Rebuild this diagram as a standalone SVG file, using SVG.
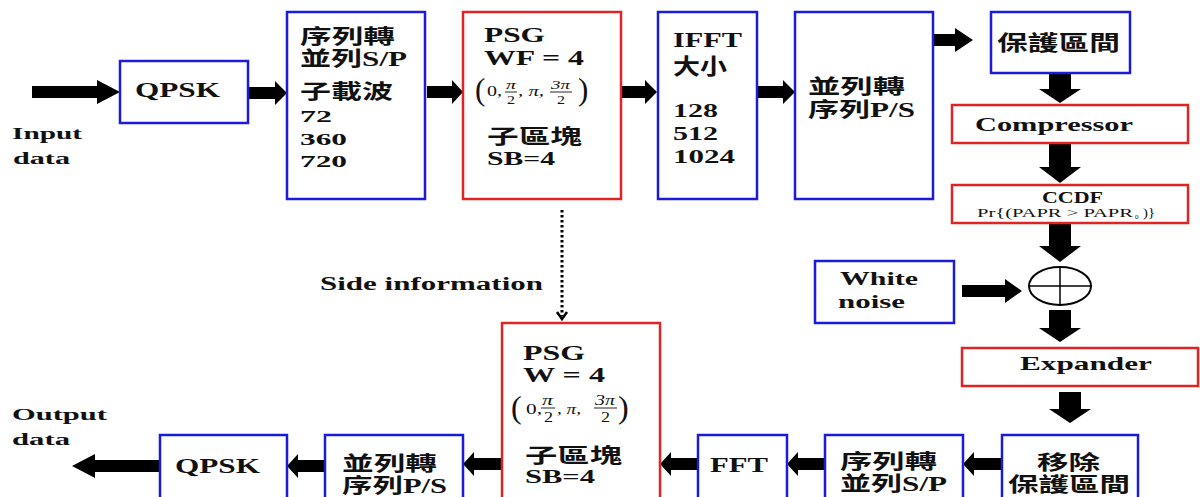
<svg xmlns="http://www.w3.org/2000/svg" width="1200" height="497" viewBox="0 0 1200 497">
<style>
.bb{fill:#fff;stroke:#1c1cd8;stroke-width:2.5}
.rb{fill:#fff;stroke:#e02424;stroke-width:2.5}
.t{font-family:"Liberation Serif","Times New Roman",serif;font-weight:bold;fill:#111}
.c{font-family:"Liberation Serif","Noto Sans CJK TC",serif;font-weight:bold;fill:#111}
.m{font-family:"Liberation Serif",serif;font-weight:normal;fill:#111}
.mi{font-family:"Liberation Serif",serif;font-style:italic;fill:#111}
.ar{fill:#000}
</style>
<rect width="1200" height="497" fill="#fff"/>

<g id="connectors">
  <polygon class="ar" points="32,86 97,86 97,80 120,92 97,104 97,98 32,98"/>
  <polygon class="ar" points="248,87 275,87 275,81 287,93 275,105 275,99 248,99"/>
  <polygon class="ar" points="427,86 452,86 452,80 463,92 452,104 452,98 427,98"/>
  <polygon class="ar" points="621,86 645,86 645,80 657,92 645,104 645,98 621,98"/>
  <polygon class="ar" points="757,86 783,86 783,80 795,92 783,104 783,98 757,98"/>
  <polygon class="ar" points="933,34 955,34 955,28 973,40 955,52 955,46 933,46"/>
  <polygon class="ar" points="1049,73 1071,73 1071,89 1081,89 1060,103 1039,89 1049,89"/>
  <polygon class="ar" points="1049,143 1071,143 1071,167 1081,167 1060,183 1039,167 1049,167"/>
  <polygon class="ar" points="1049,223 1071,223 1071,246 1081,246 1060,262 1039,246 1049,246"/>
  <polygon class="ar" points="1049,310 1071,310 1071,328 1081,328 1060,342 1039,328 1049,328"/>
  <polygon class="ar" points="1059,392 1081,392 1081,409 1091,409 1070,423 1049,409 1059,409"/>
  <polygon class="ar" points="962,285 1005,285 1005,279 1022,291 1005,303 1005,297 962,297"/>
  <polygon class="ar" points="1002,458 974,458 974,452 963,464 974,476 974,470 1002,470"/>
  <polygon class="ar" points="825,458 798,458 798,452 787,464 798,476 798,470 825,470"/>
  <polygon class="ar" points="698,458 671,458 671,452 660,464 671,476 671,470 698,470"/>
  <polygon class="ar" points="502,458 474,458 474,452 463,464 474,476 474,470 502,470"/>
  <polygon class="ar" points="325,460 298,460 298,454 287,466 298,478 298,472 325,472"/>
  <polygon class="ar" points="160,460 95,460 95,454 72,466 95,478 95,472 160,472"/>
  <line x1="562" y1="210" x2="562" y2="316" stroke="#000" stroke-width="3" stroke-dasharray="2.5,2.5"/>
  <polyline points="557,312 562,319 567,312" fill="none" stroke="#000" stroke-width="2.5"/>
</g>

<g id="input-label">
  <text class="t" x="12" y="139" font-size="17" textLength="70" lengthAdjust="spacingAndGlyphs">Input</text>
  <text class="t" x="13" y="164" font-size="17" textLength="57" lengthAdjust="spacingAndGlyphs">data</text>
</g>

<g id="qpsk-tx">
  <rect class="bb" x="120" y="61" width="128" height="62"/>
  <text class="t" x="135" y="97" font-size="20" textLength="85" lengthAdjust="spacingAndGlyphs">QPSK</text>
</g>

<g id="sp-tx">
  <rect class="bb" x="287" y="12" width="138" height="187"/>
  <text class="c" x="300" y="44" font-size="20" textLength="95" lengthAdjust="spacingAndGlyphs">序列轉</text>
  <text class="c" x="300" y="66" font-size="20" textLength="107" lengthAdjust="spacingAndGlyphs">並列<tspan class="t">S/P</tspan></text>
  <text class="c" x="300" y="99" font-size="20" textLength="93" lengthAdjust="spacingAndGlyphs">子載波</text>
  <text class="t" x="300" y="122" font-size="17" textLength="32" lengthAdjust="spacingAndGlyphs">72</text>
  <text class="t" x="300" y="145" font-size="17" textLength="47" lengthAdjust="spacingAndGlyphs">360</text>
  <text class="t" x="300" y="167" font-size="17" textLength="47" lengthAdjust="spacingAndGlyphs">720</text>
</g>

<g id="psg-tx">
  <rect class="rb" x="463" y="12" width="158" height="187"/>
  <text class="t" x="484" y="42" font-size="20" textLength="61" lengthAdjust="spacingAndGlyphs">PSG</text>
  <text class="t" x="484" y="65" font-size="20" textLength="100" lengthAdjust="spacingAndGlyphs">WF = 4</text>
  <text class="m" x="475" y="100" font-size="31">(</text>
  <text class="m" x="487" y="96" font-size="14" textLength="15" lengthAdjust="spacingAndGlyphs">0,</text>
  <text class="mi" x="506" y="89" font-size="13" textLength="10" lengthAdjust="spacingAndGlyphs">π</text>
  <line x1="505" y1="92" x2="517" y2="92" stroke="#111" stroke-width="0.9"/>
  <text class="m" x="507" y="104" font-size="13" textLength="8" lengthAdjust="spacingAndGlyphs">2</text>
  <text class="mi" x="518" y="96" font-size="14" textLength="26" lengthAdjust="spacingAndGlyphs">, π,</text>
  <text class="mi" x="551" y="89" font-size="13" textLength="19" lengthAdjust="spacingAndGlyphs">3π</text>
  <line x1="550" y1="92" x2="572" y2="92" stroke="#111" stroke-width="0.9"/>
  <text class="m" x="557" y="104" font-size="13" textLength="8" lengthAdjust="spacingAndGlyphs">2</text>
  <text class="m" x="578" y="100" font-size="31">)</text>
  <text class="c" x="487" y="144" font-size="20" textLength="95" lengthAdjust="spacingAndGlyphs">子區塊</text>
  <text class="t" x="487" y="165" font-size="18" textLength="68" lengthAdjust="spacingAndGlyphs">SB=4</text>
</g>

<g id="ifft">
  <rect class="bb" x="658" y="12" width="99" height="187"/>
  <text class="t" x="673" y="47" font-size="20" textLength="69" lengthAdjust="spacingAndGlyphs">IFFT</text>
  <text class="c" x="673" y="74" font-size="22" textLength="54" lengthAdjust="spacingAndGlyphs">大小</text>
  <text class="t" x="673" y="117" font-size="18" textLength="45" lengthAdjust="spacingAndGlyphs">128</text>
  <text class="t" x="673" y="140" font-size="18" textLength="45" lengthAdjust="spacingAndGlyphs">512</text>
  <text class="t" x="673" y="163" font-size="18" textLength="62" lengthAdjust="spacingAndGlyphs">1024</text>
</g>

<g id="ps-tx">
  <rect class="bb" x="795" y="12" width="138" height="187"/>
  <text class="c" x="808" y="94" font-size="20" textLength="97" lengthAdjust="spacingAndGlyphs">並列轉</text>
  <text class="c" x="808" y="117" font-size="20" textLength="107" lengthAdjust="spacingAndGlyphs">序列<tspan class="t">P/S</tspan></text>
</g>

<g id="guard">
  <rect class="bb" x="991" y="12" width="139" height="61"/>
  <text class="c" x="997" y="50" font-size="21" textLength="123" lengthAdjust="spacingAndGlyphs">保護區間</text>
</g>

<g id="compressor">
  <rect class="rb" x="952" y="105" width="236" height="38"/>
  <text class="t" x="975" y="131" font-size="19" textLength="158" lengthAdjust="spacingAndGlyphs">Compressor</text>
</g>

<g id="ccdf">
  <rect class="rb" x="952" y="185" width="236" height="38"/>
  <text class="t" x="1042" y="203" font-size="16" textLength="61" lengthAdjust="spacingAndGlyphs">CCDF</text>
  <text class="m" x="977" y="217" font-size="12" textLength="156" lengthAdjust="spacingAndGlyphs">Pr{(PAPR &gt; PAPR</text>
  <text class="m" x="1135" y="219" font-size="7">0</text>
  <text class="m" x="1143" y="217" font-size="12" textLength="12" lengthAdjust="spacingAndGlyphs">)}</text>
</g>

<g id="white-noise">
  <rect class="bb" x="815" y="261" width="139" height="62"/>
  <text class="t" x="840" y="285" font-size="18" textLength="78" lengthAdjust="spacingAndGlyphs">White</text>
  <text class="t" x="838" y="308" font-size="18" textLength="67" lengthAdjust="spacingAndGlyphs">noise</text>
</g>

<g id="adder">
  <ellipse cx="1060" cy="286" rx="31" ry="19" fill="#fff" stroke="#000" stroke-width="2"/>
  <line x1="1029" y1="286" x2="1091" y2="286" stroke="#000" stroke-width="1.5"/>
  <line x1="1060" y1="267" x2="1060" y2="305" stroke="#000" stroke-width="1.5"/>
</g>

<g id="expander">
  <rect class="rb" x="962" y="348" width="236" height="38"/>
  <text class="t" x="1020" y="370" font-size="19" textLength="132" lengthAdjust="spacingAndGlyphs">Expander</text>
</g>

<g id="remove-guard">
  <rect class="bb" x="1002" y="435" width="136" height="70"/>
  <text class="c" x="1037" y="470" font-size="20" textLength="63" lengthAdjust="spacingAndGlyphs">移除</text>
  <text class="c" x="1008" y="492" font-size="20" textLength="122" lengthAdjust="spacingAndGlyphs">保護區間</text>
</g>

<g id="sp-rx">
  <rect class="bb" x="825" y="435" width="138" height="70"/>
  <text class="c" x="840" y="469" font-size="20" textLength="97" lengthAdjust="spacingAndGlyphs">序列轉</text>
  <text class="c" x="840" y="491" font-size="20" textLength="107" lengthAdjust="spacingAndGlyphs">並列<tspan class="t">S/P</tspan></text>
</g>

<g id="fft">
  <rect class="bb" x="698" y="435" width="89" height="70"/>
  <text class="t" x="710" y="472" font-size="20" textLength="58" lengthAdjust="spacingAndGlyphs">FFT</text>
</g>

<g id="psg-rx">
  <rect class="rb" x="502" y="323" width="158" height="182"/>
  <text class="t" x="523" y="360" font-size="20" textLength="62" lengthAdjust="spacingAndGlyphs">PSG</text>
  <text class="t" x="523" y="382" font-size="20" textLength="82" lengthAdjust="spacingAndGlyphs">W = 4</text>
  <text class="m" x="511" y="418" font-size="32">(</text>
  <text class="m" x="526" y="414" font-size="15" textLength="16" lengthAdjust="spacingAndGlyphs">0,</text>
  <text class="mi" x="542" y="405" font-size="14" textLength="11" lengthAdjust="spacingAndGlyphs">π</text>
  <line x1="541" y1="408" x2="555" y2="408" stroke="#111" stroke-width="0.9"/>
  <text class="m" x="544" y="422" font-size="14" textLength="9" lengthAdjust="spacingAndGlyphs">2</text>
  <text class="mi" x="557" y="414" font-size="15" textLength="24" lengthAdjust="spacingAndGlyphs">, π,</text>
  <text class="mi" x="595" y="405" font-size="14" textLength="20" lengthAdjust="spacingAndGlyphs">3π</text>
  <line x1="594" y1="408" x2="617" y2="408" stroke="#111" stroke-width="0.9"/>
  <text class="m" x="601" y="422" font-size="14" textLength="9" lengthAdjust="spacingAndGlyphs">2</text>
  <text class="m" x="618" y="418" font-size="32">)</text>
  <text class="c" x="525" y="463" font-size="20" textLength="97" lengthAdjust="spacingAndGlyphs">子區塊</text>
  <text class="t" x="525" y="483" font-size="18" textLength="70" lengthAdjust="spacingAndGlyphs">SB=4</text>
</g>

<g id="ps-rx">
  <rect class="bb" x="325" y="435" width="138" height="70"/>
  <text class="c" x="342" y="471" font-size="20" textLength="95" lengthAdjust="spacingAndGlyphs">並列轉</text>
  <text class="c" x="342" y="493" font-size="20" textLength="105" lengthAdjust="spacingAndGlyphs">序列<tspan class="t">P/S</tspan></text>
</g>

<g id="qpsk-rx">
  <rect class="bb" x="160" y="435" width="127" height="70"/>
  <text class="t" x="175" y="473" font-size="20" textLength="85" lengthAdjust="spacingAndGlyphs">QPSK</text>
</g>

<g id="output-label">
  <text class="t" x="12" y="420" font-size="17" textLength="95" lengthAdjust="spacingAndGlyphs">Output</text>
  <text class="t" x="12" y="445" font-size="17" textLength="58" lengthAdjust="spacingAndGlyphs">data</text>
</g>

<g id="side-info-label">
  <text class="t" x="320" y="290" font-size="18" textLength="223" lengthAdjust="spacingAndGlyphs">Side information</text>
</g>
</svg>
